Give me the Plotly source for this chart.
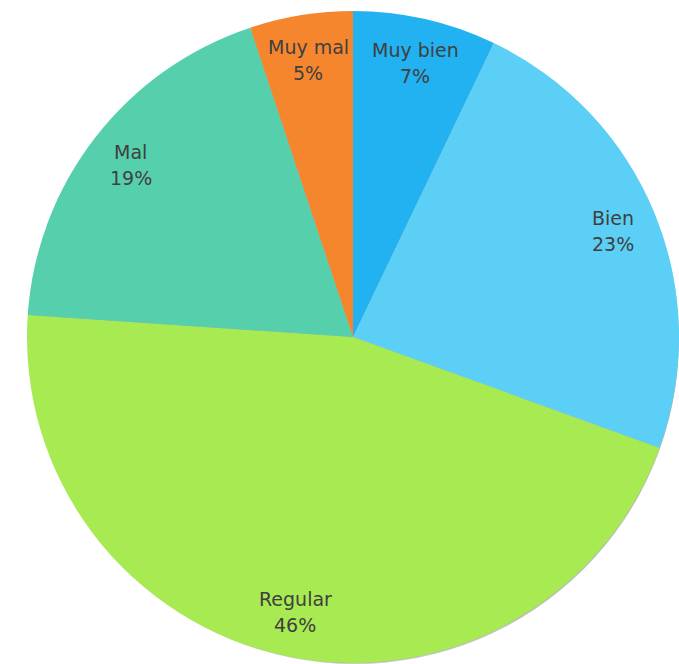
import numpy as np
import plotly.graph_objects as go

labels = ["Muy bien", "Bien", "Regular", "Mal", "Muy mal"]
values = [7.1, 23.4, 45.5, 18.8, 5.1]
colors = ["#22b2f2", "#5ccff6", "#a8ea52", "#56d0ac", "#f6862e"]

W, H = 679, 664
cx, cy, r = 353, 337, 326

def dom(cx, cy, r):
    return dict(x=[(cx - r) / W, min(1, (cx + r) / W)],
                y=[max(0, (H - cy - r) / H), (H - cy + r) / H])

fig = go.Figure()
# soft shadow
for i, (dx, dy, a) in enumerate([(3, 5, 0.10), (2, 3, 0.12), (1, 1, 0.12)]):
    fig.add_trace(go.Pie(values=[1], labels=["s"], marker=dict(colors=[f"rgba(0,0,0,{a})"]),
                         domain=dom(cx + dx, cy + dy, r - 1), textinfo="none", hoverinfo="skip",
                         showlegend=False, sort=False))
fig.add_trace(go.Pie(values=values, labels=labels, marker=dict(colors=colors, line=dict(width=0)),
                     domain=dom(cx, cy, r), sort=False, direction="clockwise", rotation=0,
                     textinfo="none", showlegend=False))

total = sum(values)
cum = 0
for lab, v in zip(labels, values):
    mid = (cum + v / 2) / total * 2 * np.pi
    cum += v
    x = cx + 0.862 * r * np.sin(mid)
    y = cy - 0.862 * r * np.cos(mid)
    pct = f"{round(v / total * 100)}%"
    for txt, off in [(lab, -13), (pct, 13)]:
        fig.add_annotation(x=x / W, y=(H - (y + off)) / H, xref="paper", yref="paper",
                           text=txt, showarrow=False, xanchor="center", yanchor="middle",
                           font=dict(family="DejaVu Sans", size=19, color="#404040"))

fig.update_layout(width=W, height=H, margin=dict(l=0, r=0, t=0, b=0),
                  paper_bgcolor="white", plot_bgcolor="white")
fig.write_html("out.html")
